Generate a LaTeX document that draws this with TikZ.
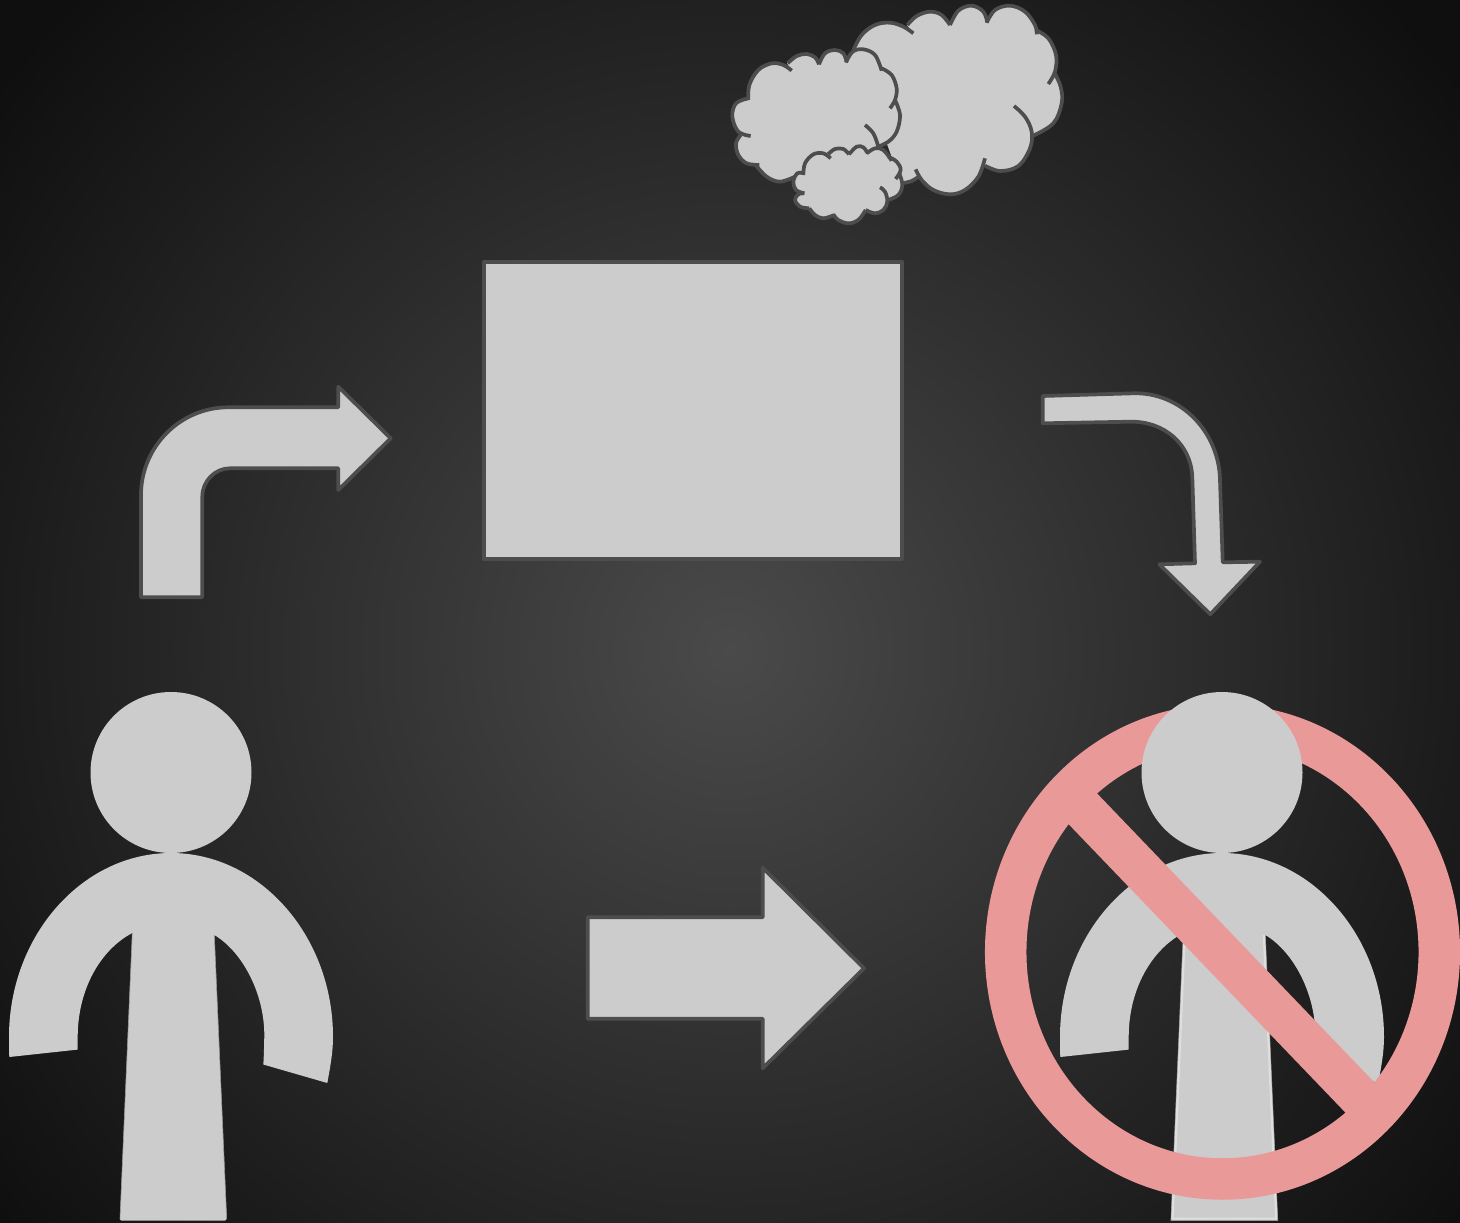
\documentclass[tikz,border=0pt]{standalone}
\pgfdeclareradialshading{bgglow}{\pgfpoint{0bp}{0bp}}{rgb(0bp)=(.29,.29,.29);rgb(23bp)=(.06,.06,.06);rgb(50bp)=(.06,.06,.06)}
\definecolor{shapefill}{HTML}{CCCCCC}
\definecolor{shapeline}{HTML}{4D4D4D}
\definecolor{banred}{HTML}{EA9999}
\definecolor{torsolight}{HTML}{DEDEDE}
\definecolor{torsoedge}{HTML}{9A9A9A}
\tikzset{
  blockshape/.style={fill=shapefill,draw=shapeline,line width=3.7pt,line join=round},
  cloudfill/.style={fill=shapefill,draw=shapefill,line width=.8pt},
  cloudline/.style={draw=shapeline,line width=3.7pt,line cap=butt,line join=round},
  bodyfill/.style={fill=shapefill},
  banmark/.style={fill=banred},
}
\newcommand\segF[1]{\path[cloudfill] (\hubx,\huby) -- plot[smooth,tension=.6] coordinates {#1} -- cycle;}
\newcommand\segD[1]{\path[cloudline] plot[smooth,tension=.6] coordinates {#1};}
\newcommand\bigcloud{%
  \seg{(400,150)(425,105)(465,75)(510,68)(550,80)(580,100)}
  \seg{(562,75)(590,48)(630,35)(665,45)(690,75)}
  \seg{(690,75)(715,32)(755,17)(790,35)(802,68)}
  \seg{(800,68)(825,30)(870,17)(915,35)(945,75)(950,103)}
  \seg{(948,90)(985,115)(1008,165)(1005,215)(985,252)}
  \seg{(1003,218)(1022,260)(1025,310)(1000,370)(938,408)}
  \seg{(882,318)(915,350)(935,395)(930,445)(895,498)(840,513)(795,497)}
  \seg{(795,475)(775,530)(735,570)(690,583)(640,570)(605,540)(587,508)}
  \seg{(600,527)(575,543)(545,550)}
}
\newcommand\leftcloud{%
  \seg{(85,300)(88,255)(115,210)(155,190)(190,195)(215,212)}
  \seg{(203,190)(230,168)(260,162)(285,172)(297,193)}
  \seg{(297,193)(315,160)(345,150)(370,160)(380,187)}
  \seg{(378,187)(398,155)(430,148)(465,165)(485,212)}
  \seg{(485,205)(515,225)(530,265)(525,300)(510,325)}
  \seg{(525,300)(540,345)(530,395)(505,425)(470,442)}
  \seg{(435,375)(460,400)(475,440)}
  \seg{(225,530)(180,545)(140,530)(105,493)}
  \seg{(118,495)(80,490)(55,465)(48,430)(62,405)}
  \seg{(92,408)(55,395)(37,350)(48,310)(85,295)}
}
\newcommand\smallcloud{%
  \seg{(250,525)(255,490)(280,463)(310,460)(332,475)}
  \seg{(325,462)(345,447)(370,447)(387,463)}
  \seg{(387,463)(410,440)(430,442)(443,460)}
  \seg{(440,460)(465,445)(490,450)(515,482)}
  \seg{(505,470)(530,485)(542,510)(527,537)}
  \seg{(538,520)(547,555)(535,585)(505,600)}
  \seg{(480,562)(495,575)(502,605)(490,630)(465,640)(437,630)}
  \seg{(437,630)(415,660)(385,670)(355,660)(340,643)}
  \seg{(343,645)(310,655)(285,645)(268,625)}
  \seg{(268,625)(240,620)(225,600)(235,583)(253,580)}
  \seg{(253,580)(228,570)(220,545)(232,520)(252,520)}
}
\newcommand\bodypath{%
  (9.3,1057) .. controls (9,1050) and (9,1043) .. (9,1037)
  .. controls (9,936) and (82,853) .. (171,853)
  .. controls (260,853) and (333,936) .. (333,1037)
  .. controls (333,1053) and (330,1068) .. (327.3,1083)
  -- (263.3,1064.5)
  .. controls (264,1055) and (264,1047) .. (264.3,1037)
  .. controls (265,995) and (243,952) .. (214.3,935)
  -- (226.7,1219) [rounded corners=1.5pt] -- (226.7,1220.5) -- (120,1220.5) -- (120,1219) [sharp corners]
  -- (132.3,933)
  .. controls (100,950) and (77.7,990) .. (77.7,1037)
  -- (77.7,1049.6) -- cycle}
\begin{document}
\begin{tikzpicture}[x=1pt,y=-1pt]
\useasboundingbox (0,0) rectangle (1460,1223);
\clip (0,0) rectangle (1460,1223);
% background
\shade[shading=bgglow] (-270,-350) rectangle (1730,1650);
% centre box
\path[blockshape] (483.8,261.8) rectangle (901.8,558.8);
% bent arrow, left
\path[blockshape] (141,597.3) -- (141,495) .. controls (141,447) and (180,407.3) .. (228.3,407.3)
  -- (338.3,407.3) -- (338.3,386.7) -- (390.7,438.3) -- (338.3,490) -- (338.3,468.3) -- (230,468.3)
  .. controls (215,468.3) and (202.3,481) .. (202.3,496.7) -- (202.3,597.3) -- cycle;
% bent arrow, right
\path[blockshape] (1042.7,396) -- (1133.3,393.3) .. controls (1181,392) and (1219,432) .. (1220,480)
  -- (1222.7,562.3) -- (1260,561.7) -- (1210.3,614.3) -- (1159.3,564.3) -- (1195,563.3) -- (1192.3,476.7)
  .. controls (1191,445) and (1165,421) .. (1130,421.7) -- (1042.7,423.3) -- cycle;
% straight arrow
\path[blockshape] (587.7,917.3) -- (762.7,917.3) -- (762.7,867.7) -- (864,968.3) -- (762.7,1068.3)
  -- (762.7,1018.7) -- (587.7,1018.7) -- cycle;
% clouds
\begin{scope}[xshift=720pt,x=0.33333pt,y=-0.33333pt]
  \def\hubx{720}\def\huby{280}
  \path[cloudfill] (400,150) -- (580,100) -- (690,75) -- (800,68) -- (950,103) -- (985,252) -- (938,408) -- (795,497) -- (587,508) -- (545,550) -- cycle;
  \let\seg\segF \bigcloud
  \let\seg\segD \bigcloud
  \def\hubx{290}\def\huby{350}
  \path[cloudfill] (85,295) -- (215,212) -- (297,193) -- (380,187) -- (485,212) -- (510,325) -- (470,442) -- (225,530) -- (105,493) -- (118,495) -- (50,430) -- (62,405) -- (92,408) -- cycle;
  \let\seg\segF \leftcloud
  \let\seg\segD \leftcloud
  \def\hubx{380}\def\huby{550}
  \path[cloudfill] (250,525) -- (332,475) -- (387,463) -- (443,460) -- (515,482) -- (527,537) -- (505,600) -- (437,630) -- (340,643) -- (268,625) -- (253,580) -- cycle;
  \let\seg\segF \smallcloud
  \let\seg\segD \smallcloud
\end{scope}
% person, left
\path[bodyfill] \bodypath;
\draw[torsoedge,line width=.6pt] (214.3,935) -- (226.7,1219);
\draw[torsoedge,line width=.6pt] (132.3,933) -- (120,1219);
\fill[bodyfill] (171,772.5) circle[radius=80.5];
% person, right, under the ban sign
\begin{scope}[xshift=1051pt]
  \path[bodyfill] \bodypath;
  \draw[torsoedge,line width=.6pt] (214.3,935) -- (226.7,1219) -- (226.7,1220.5) -- (120,1220.5) -- (120,1219) -- (132.3,933);
  \draw[torsolight,line width=2.2pt,line join=miter] (212.9,935) -- (225.2,1218.6) -- (121.5,1218.6) -- (133.8,933);
\end{scope}
% ban sign
\draw[banred,line width=41.5pt] (1222.5,952) ellipse[x radius=216.8,y radius=227];
\fill[banmark] (1088.3,784.3) -- (1059.3,814.5) -- (1355.7,1123.3) -- (1384.3,1092.8) -- cycle;
% head of right person, above the sign
\fill[bodyfill] (1222,772.5) circle[radius=80.5];
\end{tikzpicture}
\end{document}
